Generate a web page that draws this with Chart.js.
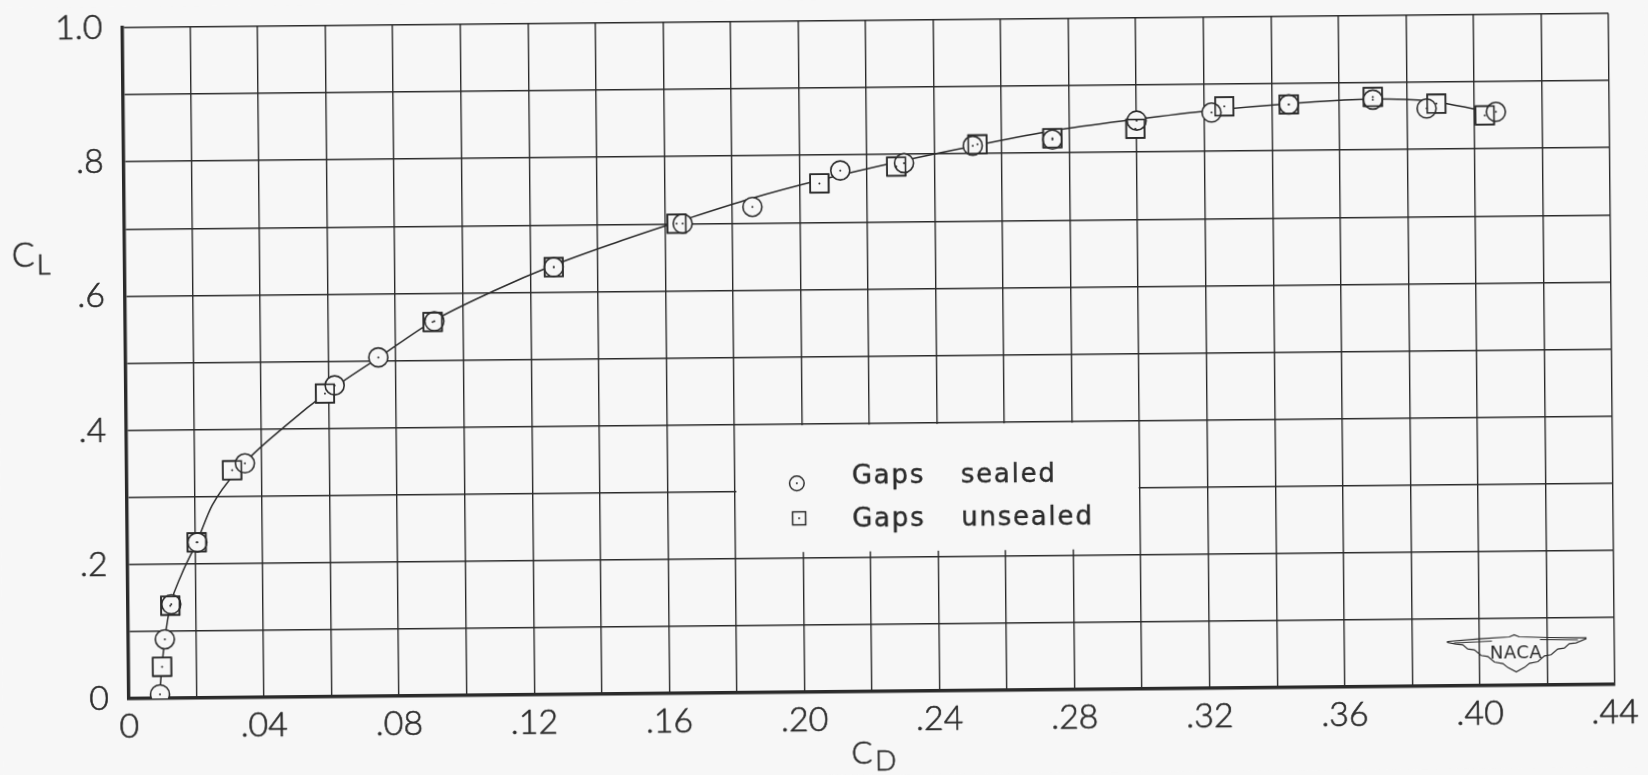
<!DOCTYPE html>
<html>
<head>
<meta charset="utf-8">
<script src="https://cdn.jsdelivr.net/npm/chart.js@4.4.1/dist/chart.umd.min.js"></script>
<style>
  html, body { margin: 0; padding: 0; background: #f7f7f7; overflow: hidden; }
  /* the scanned sheet sits a little askew */
  #wrap { width: 1648px; height: 775px; transform: rotate(-0.55deg); }
</style>
</head>
<body>
<div id="wrap"><canvas id="dragPolar"></canvas></div>
<script>
// tick labels (every other grid line is labelled)
const xTickLabels = ["0", ".04", ".08", ".12", ".16", ".20", ".24", ".28", ".32", ".36", ".40", ".44"];
const yTickLabels = ["0", ".2", ".4", ".6", ".8", "1.0"];

// Gaps sealed (circles)
const sealedCd = [0.0092, 0.0108, 0.0128, 0.0207, 0.0350, 0.0618, 0.0748, 0.0915, 0.1270, 0.1653, 0.1860,
  0.2121, 0.2310, 0.2514, 0.2750, 0.3000, 0.3222, 0.3451, 0.3700, 0.3859, 0.4064];
const sealedCl = [0.006, 0.088, 0.140, 0.232, 0.349, 0.464, 0.505, 0.558, 0.637, 0.700, 0.724,
  0.777, 0.787, 0.812, 0.820, 0.847, 0.858, 0.869, 0.875, 0.861, 0.855];

// Gaps unsealed (squares)
const unsealedCd = [0.0099, 0.0125, 0.0205, 0.0312, 0.0589, 0.0910, 0.1270, 0.1635, 0.2059, 0.2287,
  0.2528, 0.2750, 0.2996, 0.3260, 0.3451, 0.3700, 0.3888, 0.4031];
const unsealedCl = [0.047, 0.138, 0.232, 0.339, 0.452, 0.557, 0.637, 0.700, 0.758, 0.782,
  0.814, 0.822, 0.835, 0.867, 0.869, 0.879, 0.868, 0.850];

// faired curve
const curveCd = [0.0090, 0.0098, 0.0108, 0.0125, 0.0159, 0.0205, 0.0252, 0.0330, 0.0475, 0.0600, 0.0750,
  0.0910, 0.1090, 0.1270, 0.1456, 0.1640, 0.1860, 0.2060, 0.2300, 0.2520, 0.2750, 0.3000, 0.3220,
  0.3450, 0.3700, 0.3870, 0.4025];
const curveCl = [0.000, 0.045, 0.088, 0.138, 0.184, 0.232, 0.287, 0.340, 0.406, 0.455, 0.505,
  0.558, 0.602, 0.640, 0.673, 0.703, 0.737, 0.763, 0.790, 0.812, 0.833, 0.849, 0.861,
  0.870, 0.876, 0.872, 0.857];

const ink = "#2b2b2b";
const paper = "#f7f7f7";
const letterFont = "Lato, 'Open Sans', sans-serif";
const keyFont = "'DejaVu Sans', sans-serif";

const toPoints = (xs, ys) => xs.map((x, i) => ({ x: x, y: ys[i] }));

function letter(ctx, text, x, y, font) {
  ctx.font = font;
  ctx.fillText(text, x, y);
  ctx.strokeText(text, x, y);
}

// paper background
const paperPlugin = {
  id: "paper",
  beforeDraw(chart) {
    const ctx = chart.ctx;
    ctx.save();
    ctx.fillStyle = paper;
    ctx.fillRect(0, 0, chart.width, chart.height);
    ctx.restore();
  },
};

// blank panel behind the key, cut out of the grid
const keyPlugin = {
  id: "key",
  beforeDatasetsDraw(chart) {
    const { x, y } = chart.scales;
    const ctx = chart.ctx;
    const l = x.getPixelForValue(0.18) + 1.5;
    const r = x.getPixelForValue(0.30) - 1.5;
    const t = y.getPixelForValue(0.4) + 1.5;
    const b = y.getPixelForValue(0.2) - 6;
    ctx.save();
    ctx.fillStyle = paper;
    ctx.fillRect(l, t, r - l, b - t);
    ctx.restore();
  },
  afterDraw(chart) {
    const { x, y } = chart.scales;
    const ctx = chart.ctx;
    const left = x.getPixelForValue(0.18);
    const top = y.getPixelForValue(0.4);
    ctx.save();
    ctx.strokeStyle = ink;
    ctx.fillStyle = ink;
    ctx.lineWidth = 1.5;
    // circle
    ctx.beginPath();
    ctx.arc(left + 62, top + 59.5, 7.3, 0, Math.PI * 2);
    ctx.stroke();
    ctx.beginPath();
    ctx.arc(left + 62, top + 59.5, 1, 0, Math.PI * 2);
    ctx.fill();
    // square
    ctx.strokeRect(left + 64 - 6.5, top + 94.5 - 6.5, 13, 13);
    ctx.beginPath();
    ctx.arc(left + 64, top + 94.5, 1, 0, Math.PI * 2);
    ctx.fill();

    ctx.letterSpacing = "1.8px";
    ctx.textBaseline = "alphabetic";
    ctx.textAlign = "left";
    ctx.lineWidth = 0.4;
    const kf = "26px " + keyFont;
    letter(ctx, "Gaps", left + 117, top + 60, kf);
    letter(ctx, "sealed", left + 226, top + 60, kf);
    letter(ctx, "Gaps", left + 117, top + 103, kf);
    letter(ctx, "unsealed", left + 226, top + 103, kf);
    ctx.letterSpacing = "0px";

    // axis titles with subscripts
    const area = chart.chartArea;
    ctx.lineWidth = 0.6;
    letter(ctx, "C", 13, 259, "300 34px " + letterFont);
    letter(ctx, "L", 38, 267, "300 27px " + letterFont);
    const cx = (area.left + area.right) / 2;
    letter(ctx, "C", cx - 21, 764, "300 31px " + letterFont);
    letter(ctx, "D", cx + 2.5, 771, "300 28px " + letterFont);

    // NACA wings
    const lx = area.right - 98.5;
    const ly = area.bottom - 33;
    const wing = [
      [-68.4, -11.5], [-36.7, -13.9], [-6.7, -15.5], [-1.7, -17.5], [3.3, -15.5], [33.3, -14.5], [70, -13.9],
      [70, -12.9], [60, -8.9], [53.3, -8.2], [48.3, -3.9], [41.7, -2.9], [35, 2.8], [28.3, 3.8], [21.7, 9.5],
      [13.3, 11.1], [8.3, 15.1], [0, 19.5], [-8.3, 15.1], [-13.3, 11.1], [-21.7, 9.5], [-28.3, 3.8],
      [-35, 2.8], [-41.7, -2.9], [-48.3, -3.9], [-53.3, -8.2], [-60, -8.9], [-68.4, -10.5],
    ];
    ctx.lineWidth = 1.2;
    ctx.beginPath();
    wing.forEach((p, i) => (i ? ctx.lineTo(lx + p[0], ly + p[1]) : ctx.moveTo(lx + p[0], ly + p[1])));
    ctx.closePath();
    ctx.stroke();
    ctx.beginPath();
    ctx.moveTo(lx - 62, ly - 10);
    ctx.lineTo(lx - 24, ly - 11.5);
    ctx.moveTo(lx + 62, ly - 12);
    ctx.lineTo(lx + 24, ly - 12.5);
    ctx.stroke();
    ctx.font = "18px 'DejaVu Sans', sans-serif";
    ctx.letterSpacing = "0.5px";
    ctx.textAlign = "center";
    ctx.textBaseline = "middle";
    ctx.fillText("NACA", lx, ly + 1);
    ctx.restore();
  },
};

// square outlines redrawn over the circles, and the centre dots
const markPlugin = {
  id: "marks",
  afterDatasetsDraw(chart) {
    const ctx = chart.ctx;
    ctx.save();
    ctx.strokeStyle = ink;
    ctx.fillStyle = ink;
    ctx.lineWidth = 1.6;
    const h = 13 * Math.SQRT1_2;
    chart.getDatasetMeta(1).data.forEach((pt) => {
      ctx.strokeRect(pt.x - h, pt.y - h, 2 * h, 2 * h);
    });
    [1, 2].forEach((i) => {
      chart.getDatasetMeta(i).data.forEach((pt) => {
        ctx.beginPath();
        ctx.arc(pt.x, pt.y, 1, 0, Math.PI * 2);
        ctx.fill();
      });
    });
    ctx.restore();
  },
};

const gridLine = { color: ink, lineWidth: 1.4, drawTicks: false };
const edge = { display: true, color: ink, width: 3.4 };
const tickFont = { family: letterFont, size: 34, weight: "300" };

const ctx = document.getElementById("dragPolar").getContext("2d");
const dragPolar = new Chart(ctx, {
  type: "scatter",
  data: {
    datasets: [
      {
        label: "curve",
        data: toPoints(curveCd, curveCl),
        showLine: true,
        cubicInterpolationMode: "monotone",
        borderColor: ink,
        borderWidth: 1.5,
        pointRadius: 0,
        order: 3,
      },
      {
        label: "Gaps unsealed",
        data: toPoints(unsealedCd, unsealedCl),
        pointStyle: "rect",
        pointRadius: 13,
        pointBorderWidth: 1.6,
        pointBorderColor: ink,
        pointBackgroundColor: paper,
        order: 2,
      },
      {
        label: "Gaps sealed",
        data: toPoints(sealedCd, sealedCl),
        pointStyle: "circle",
        pointRadius: 9.5,
        pointBorderWidth: 1.6,
        pointBorderColor: ink,
        pointBackgroundColor: paper,
        order: 1,
      },
    ],
  },
  options: {
    responsive: true,
    maintainAspectRatio: false,
    animation: false,
    layout: { padding: { top: 21, right: 36, left: 0, bottom: 0 } },
    scales: {
      x: {
        type: "linear",
        min: 0,
        max: 0.44,
        grid: gridLine,
        border: edge,
        afterFit(scale) {
          scale.height = 83;
        },
        ticks: {
          stepSize: 0.02,
          autoSkip: false,
          maxRotation: 0,
          padding: 8,
          color: ink,
          textStrokeColor: ink,
          textStrokeWidth: 0.6,
          font: tickFont,
          callback: (v, i) => (i % 2 === 0 ? xTickLabels[i / 2] : ""),
        },
      },
      y: {
        type: "linear",
        min: 0,
        max: 1,
        grid: gridLine,
        border: edge,
        afterFit(scale) {
          scale.width = 126;
          scale.paddingTop = 20;
          scale.paddingBottom = 20;
        },
        ticks: {
          stepSize: 0.1,
          autoSkip: false,
          padding: 20,
          color: ink,
          textStrokeColor: ink,
          textStrokeWidth: 0.6,
          font: tickFont,
          callback: (v, i) => (i % 2 === 0 ? yTickLabels[i / 2] : ""),
        },
      },
    },
    plugins: {
      legend: { display: false },
      tooltip: { enabled: false },
    },
  },
  plugins: [paperPlugin, keyPlugin, markPlugin],
});
</script>
</body>
</html>
